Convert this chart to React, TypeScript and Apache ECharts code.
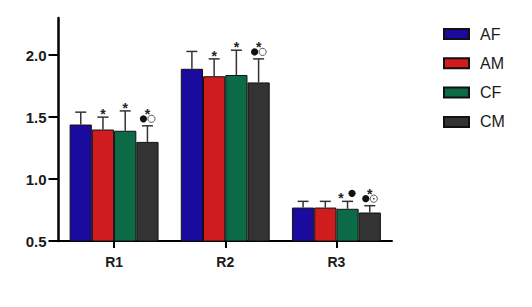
import React, { useEffect, useRef } from "react";
import * as echarts from "echarts";

const categories = ["R1", "R2", "R3"];
const seriesNames = ["AF", "AM", "CF", "CM"];
const colors = ["#1a0b9e", "#cf1c1f", "#0b6b46", "#333333"];
const means = [
  [1.44, 1.89, 0.77],
  [1.4, 1.83, 0.77],
  [1.39, 1.84, 0.76],
  [1.3, 1.78, 0.73],
];
const sds = [
  [0.1, 0.14, 0.05],
  [0.1, 0.14, 0.05],
  [0.16, 0.2, 0.06],
  [0.13, 0.19, 0.055],
];
// annotation per series per category: "" none, "*" star, "*●⊙" star above pair, "*●" star and dot side by side
const annotations = [
  ["", "", ""],
  ["*", "*", ""],
  ["*", "*", "*●"],
  ["*●⊙", "*●⊙", "*●⊙"],
];
const yTicks = [0.5, 1.0, 1.5, 2.0];

const FONT = "'Liberation Sans', Arial, Helvetica, sans-serif";

export default function App() {
  const ref = useRef<HTMLDivElement>(null);
  useEffect(() => {
    if (!ref.current) return;
    const chart = echarts.init(ref.current, undefined, { renderer: "svg" });
    const errData: any[] = [];
    const errAnn: string[] = [];
    for (let s = 0; s < seriesNames.length; s++) {
      for (let c = 0; c < categories.length; c++) {
        errData.push([c, s, means[s][c], sds[s][c]]);
        errAnn.push(annotations[s][c]);
      }
    }
    const renderItem = (params: any, api: any) => {
      const c = api.value(0);
      const s = api.value(1);
      const v = api.value(2);
      const sd = api.value(3);
      const band = api.size([1, 0])[0];
      const barW = (band * 0.8) / 4;
      const base = api.coord([c, v]);
      const top = api.coord([c, v + sd]);
      const x = base[0] - band * 0.4 + barW * (s + 0.5);
      const yb = base[1];
      const yt = top[1];
      const halfCap = 5.5;
      const lineStyle = { stroke: "#333", lineWidth: 1.5 };
      const children: any[] = [
        { type: "line", shape: { x1: x, y1: yb, x2: x, y2: yt }, style: lineStyle },
        { type: "line", shape: { x1: x - halfCap, y1: yt, x2: x + halfCap, y2: yt }, style: lineStyle },
      ];
      const ann = errAnn[params.dataIndex];
      const starText = (sx: number, sy: number) => ({
        type: "text",
        x: sx,
        y: sy,
        style: {
          text: "*",
          fontSize: 14,
          fontWeight: "bold",
          fontFamily: FONT,
          fill: "#222",
          align: "center",
          verticalAlign: "middle",
        },
      });
      const dot = (cx: number, cy: number) => ({
        type: "circle",
        shape: { cx, cy, r: 3.6 },
        style: { fill: "#111" },
      });
      const odot = (cx: number, cy: number) => ({
        type: "group",
        children: [
          { type: "circle", shape: { cx, cy, r: 3.6 }, style: { fill: "#fff", stroke: "#333", lineWidth: 0.8 } },
          { type: "circle", shape: { cx, cy, r: 0.8 }, style: { fill: "#333" } },
        ],
      });
      if (ann === "*") {
        children.push(starText(x, yt - 3));
      } else if (ann === "*●⊙") {
        children.push(dot(x - 4, yt - 7));
        children.push(odot(x + 4, yt - 7));
        children.push(starText(x, yt - 12));
      } else if (ann === "*●") {
        children.push(starText(x - 6.5, yt - 3));
        children.push(dot(x + 4.5, yt - 8));
      }
      return { type: "group", children };
    };

    const barSeries = seriesNames.map((name, i) => ({
      name,
      type: "bar",
      data: means[i],
      barGap: "0%",
      barCategoryGap: "20%",
      itemStyle: { color: colors[i], borderColor: "#111", borderWidth: 1 },
      z: 2,
    }));

    chart.setOption({
      animation: false,
      grid: { left: 58.5, right: 140, top: 18, bottom: 66, containLabel: false },
      legend: {
        orient: "vertical",
        left: 438,
        top: 21,
        itemWidth: 25,
        itemHeight: 10,
        itemGap: 13.3,
        icon: "rect",
        data: seriesNames,
        textStyle: { fontSize: 16, fontFamily: FONT, color: "#1a1a1a", padding: [0, 0, 0, 6], lineHeight: 16 },
      },
      xAxis: {
        type: "category",
        data: categories,
        axisLine: { lineStyle: { color: "#000", width: 2 } },
        axisTick: { show: true, alignWithLabel: true, length: 7, lineStyle: { color: "#000", width: 2 } },
        axisLabel: { fontSize: 14, fontWeight: "bold", fontFamily: FONT, color: "#1a1a1a", margin: 14 },
      },
      yAxis: {
        type: "value",
        min: 0.5,
        max: 2.3,
        interval: 0.5,
        splitLine: { show: false },
        axisLine: { show: true, lineStyle: { color: "#000", width: 2.5 } },
        axisTick: { show: true, length: 10, customValues: yTicks, lineStyle: { color: "#000", width: 2 } },
        axisLabel: {
          fontSize: 15,
          fontWeight: "bold",
          fontFamily: FONT,
          color: "#1a1a1a",
          margin: 12,
          customValues: yTicks,
          formatter: (v: number) => v.toFixed(1),
        },
      },
      series: [
        ...barSeries,
        {
          type: "custom",
          renderItem,
          data: errData,
          encode: { x: 0, y: 2 },
          z: 5,
          silent: true,
        },
      ],
    });
    return () => chart.dispose();
  }, []);
  return (
    <div
      ref={ref}
      style={{ position: "fixed", left: 0, top: 0, width: 532, height: 307, background: "#fff" }}
    />
  );
}
